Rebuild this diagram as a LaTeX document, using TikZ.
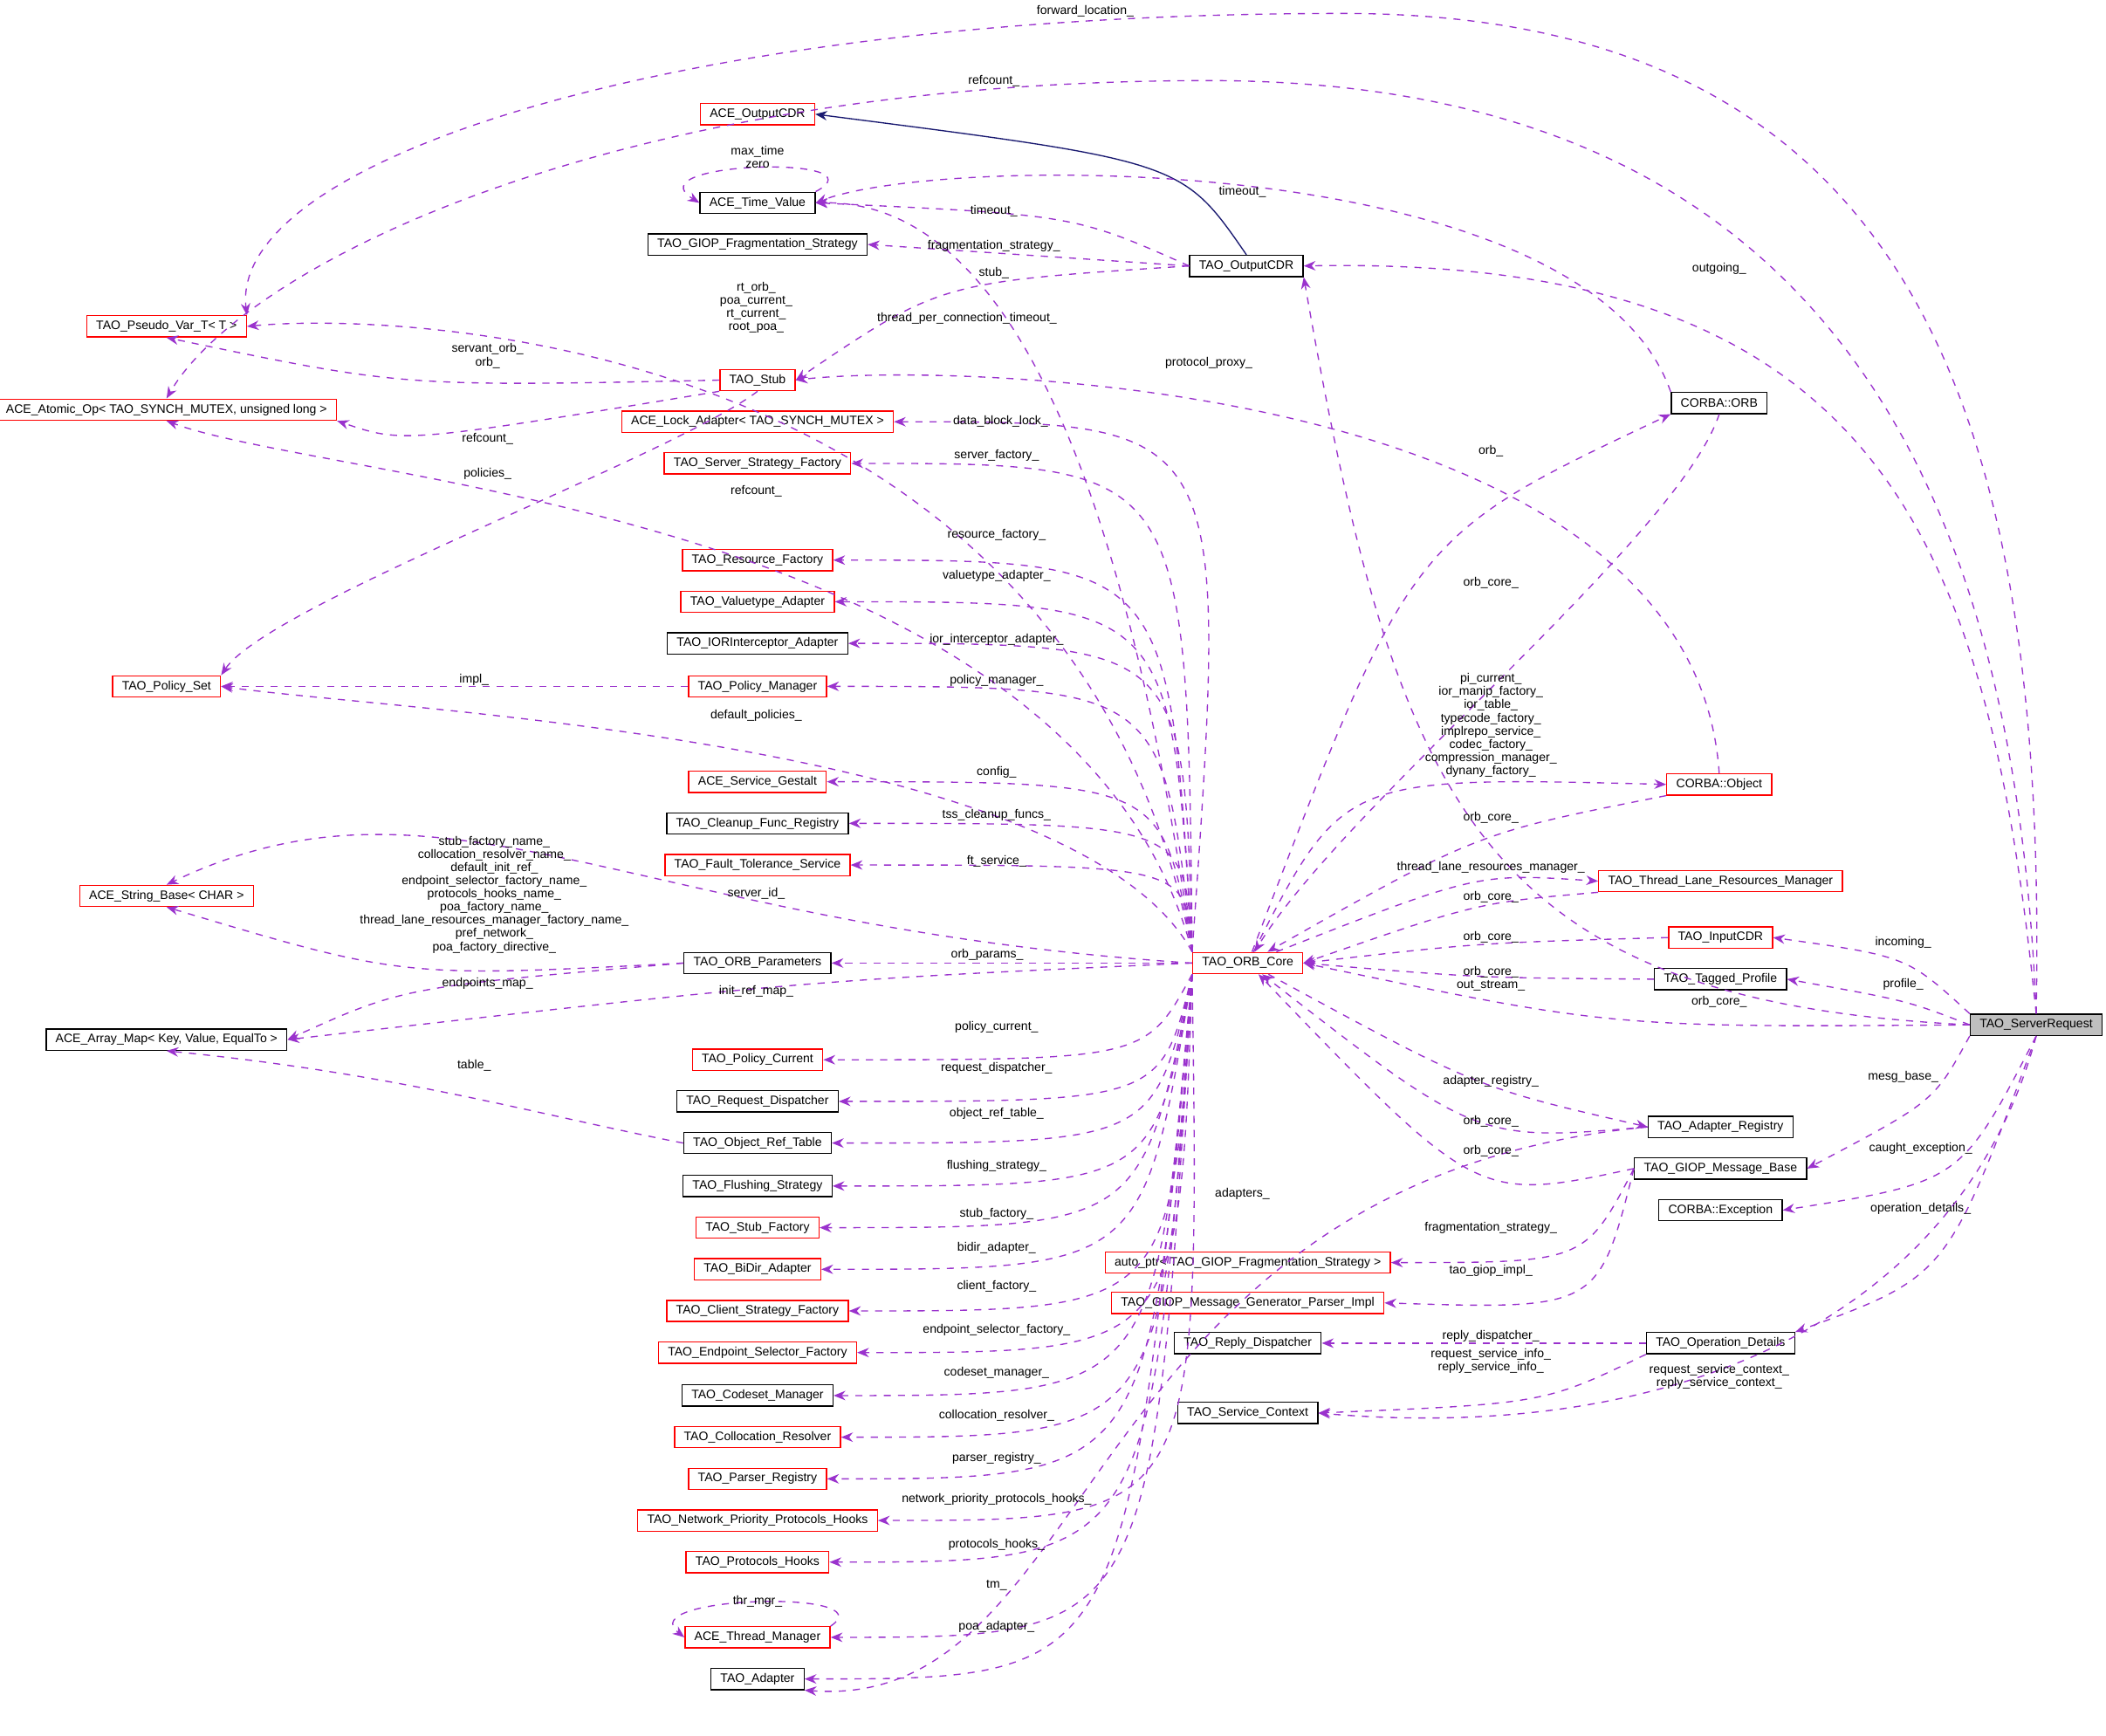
\documentclass[tikz,border=0pt]{standalone}
\usepackage{fontspec}
\setmainfont{Liberation Sans}
\usetikzlibrary{arrows.meta,calc}
\definecolor{ep}{HTML}{9A32CD}
\definecolor{nv}{HTML}{191970}
\tikzset{
 bx/.style={draw=black,fill=white,font=\fontsize{5.2}{6}\selectfont,minimum height=9pt,inner xsep=4pt,inner ysep=0pt,line width=0.5pt},
 rb/.style={bx,draw=red},
 e/.style={draw=ep,dashed,line width=0.5pt,-{Stealth[length=5pt,width=4pt]}},
 lb/.style={font=\fontsize{5.2}{5.6}\selectfont,inner sep=0pt,align=center},
}
\begin{document}
\begin{tikzpicture}[x=0.02cm,y=-0.02cm]
\useasboundingbox (0,0) rectangle (1568,1292);
% left column
\node[rb] (aocdr) at (564,85) {ACE\_OutputCDR};
\node[bx] (tv) at (564,151) {ACE\_Time\_Value};
\node[bx] (frag) at (564,182) {TAO\_GIOP\_Fragmentation\_Strategy};
\node[rb] (pv) at (124,243) {TAO\_Pseudo\_Var\_T< T >};
\node[rb] (atomic) at (124,305) {ACE\_Atomic\_Op< TAO\_SYNCH\_MUTEX, unsigned long >};
\node[rb] (stub) at (564,283) {TAO\_Stub};
\node[rb] (lock) at (564,314) {ACE\_Lock\_Adapter< TAO\_SYNCH\_MUTEX >};
\node[rb] (ssf) at (564,345) {TAO\_Server\_Strategy\_Factory};
\node[rb] (rf) at (564,417) {TAO\_Resource\_Factory};
\node[rb] (va) at (564,448) {TAO\_Valuetype\_Adapter};
\node[bx] (ior) at (564,479) {TAO\_IORInterceptor\_Adapter};
\node[rb] (pm) at (564,511) {TAO\_Policy\_Manager};
\node[rb] (ps) at (124,511) {TAO\_Policy\_Set};
\node[rb] (sg) at (564,582) {ACE\_Service\_Gestalt};
\node[bx] (cfr) at (564,613) {TAO\_Cleanup\_Func\_Registry};
\node[rb] (fts) at (564,644) {TAO\_Fault\_Tolerance\_Service};
\node[rb] (sb) at (124,667) {ACE\_String\_Base< CHAR >};
\node[bx] (param) at (564,717) {TAO\_ORB\_Parameters};
\node[bx] (am) at (124,774) {ACE\_Array\_Map< Key, Value, EqualTo >};
\node[rb] (pc) at (564,789) {TAO\_Policy\_Current};
\node[bx] (rd) at (564,820) {TAO\_Request\_Dispatcher};
\node[bx] (ort) at (564,851) {TAO\_Object\_Ref\_Table};
\node[bx] (fs) at (564,883) {TAO\_Flushing\_Strategy};
\node[rb] (sf) at (564,914) {TAO\_Stub\_Factory};
\node[rb] (bd) at (564,945) {TAO\_BiDir\_Adapter};
\node[rb] (csf) at (564,976) {TAO\_Client\_Strategy\_Factory};
\node[rb] (esf) at (564,1007) {TAO\_Endpoint\_Selector\_Factory};
\node[bx] (cm) at (564,1039) {TAO\_Codeset\_Manager};
\node[rb] (cr) at (564,1070) {TAO\_Collocation\_Resolver};
\node[rb] (pr) at (564,1101) {TAO\_Parser\_Registry};
\node[rb] (npph) at (564,1132) {TAO\_Network\_Priority\_Protocols\_Hooks};
\node[rb] (ph) at (564,1163) {TAO\_Protocols\_Hooks};
\node[rb] (tm) at (564,1219) {ACE\_Thread\_Manager};
\node[bx] (ad) at (564,1250) {TAO\_Adapter};
% middle
\node[bx] (ocdr) at (928,198) {TAO\_OutputCDR};
\node[rb] (core) at (929,717) {TAO\_ORB\_Core};
\node[rb] (ap) at (929,940) {auto\_ptr< TAO\_GIOP\_Fragmentation\_Strategy >};
\node[rb] (gen) at (929,970) {TAO\_GIOP\_Message\_Generator\_Parser\_Impl};
\node[bx] (rdp) at (929,1000) {TAO\_Reply\_Dispatcher};
\node[bx] (sc) at (929,1052) {TAO\_Service\_Context};
% right
\node[bx] (orb) at (1280,300) {CORBA::ORB};
\node[rb] (obj) at (1280,584) {CORBA::Object};
\node[rb] (tlrm) at (1281,656) {TAO\_Thread\_Lane\_Resources\_Manager};
\node[rb] (incdr) at (1281,698) {TAO\_InputCDR};
\node[bx] (tp) at (1281,729) {TAO\_Tagged\_Profile};
\node[bx] (ar) at (1281,839) {TAO\_Adapter\_Registry};
\node[bx] (gmb) at (1281,870) {TAO\_GIOP\_Message\_Base};
\node[bx] (exc) at (1281,901) {CORBA::Exception};
\node[bx] (od) at (1281,1000) {TAO\_Operation\_Details};
\node[bx,fill=black!25] (sr) at (1516,763) {TAO\_ServerRequest};

% inheritance
\draw[draw=nv,line width=0.5pt,-{Stealth[length=5pt,width=4pt]}] (ocdr.north) .. controls (880,120) .. (aocdr.east);

% ServerRequest edges
\draw[e] (sr.north) .. controls (1525,300) and (1420,10) .. (1000,10) .. controls (500,10) and (170,120) .. (pv.north east);
\draw[e] (sr.north) .. controls (1500,350) and (1350,60) .. (900,60) .. controls (450,60) and (180,200) .. (atomic.north);
\draw[e] (sr.north) .. controls (1480,400) and (1400,190) .. (ocdr.east);
\draw[e] (sr.west) .. controls (1100,745) and (1040,600) .. (ocdr.south east);
\draw[e] (sr.north west) .. controls (1420,712) .. (incdr.east);
\draw[e] (sr.west) .. controls (1420,745) .. (tp.east);
\draw[e] (sr.west) .. controls (1200,765) .. (core.east);
\draw[e] (sr.south west) .. controls (1440,820) .. (gmb.east);
\draw[e] (sr.south) .. controls (1460,880) .. (exc.east);
\draw[e] (sr.south) .. controls (1450,950) .. (od.north east);
\draw[e] (sr.south) .. controls (1460,980) and (1250,1075) .. (sc.east);

% ORB_Core to right
\draw[e] (core) .. controls (1050,400) .. (orb.south west);
\draw[e] (core) .. controls (1000,578) .. (obj.west);
\draw[e] (core) .. controls (1100,650) .. (tlrm.west);
\draw[e] (core) .. controls (1100,810) .. (ar.west);
% reverse to core
\draw[e] (orb.south) .. controls (1250,400) and (1000,600) .. (core);
\draw[e] (obj.south west) .. controls (1100,620) .. (core);
\draw[e] (tlrm.south west) .. controls (1100,672) .. (core.east);
\draw[e] (incdr.west) .. controls (1100,702) .. (core.east);
\draw[e] (tp.west) .. controls (1100,728) .. (core.east);
\draw[e] (ar.west) .. controls (1100,850) .. (core);
\draw[e] (gmb.west) .. controls (1100,895) .. (core);
\draw[e] (ar.west) .. controls (800,880) and (820,1275) .. (ad.south east);
\draw[e] (gmb.west) .. controls (1180,940) .. (ap.east);
\draw[e] (gmb.west) .. controls (1190,975) .. (gen.east);
\draw[e] (od.west) -- (rdp.east);
\draw[e] (od.south west) .. controls (1150,1045) .. (sc.east);
\draw[e] (obj.north) .. controls (1260,280) and (700,270) .. (stub.east);
\draw[e] (orb.north west) .. controls (1180,110) and (700,115) .. (tv.east);
\draw[e] (ocdr.west) .. controls (800,160) .. (tv.east);
\draw[e] (ocdr.west) -- (frag.east);
\draw[e] (ocdr.west) .. controls (700,210) .. (stub.east);
\draw[e] (tv.north east) .. controls (660,115) and (470,120) .. (tv.west);
\draw[e] (tm.north east) .. controls (660,1183) and (470,1188) .. (tm.west);
\draw[e] (stub.west) .. controls (300,288) .. (pv.south);
\draw[e] (stub.south west) .. controls (300,330) .. (atomic.south east);
\draw[e] (stub.south) .. controls (500,340) and (200,450) .. (ps.north east);
\draw[e] (pm.west) -- (ps.east);
\draw[e] (param.west) .. controls (300,728) .. (sb.south);
\draw[e] (param.west) .. controls (300,735) .. (am.east);
\draw[e] (ort.west) .. controls (400,830) and (300,800) .. (am.south);

% ORB_Core to left
\draw[e] (core.north west) .. controls (820,230) and (700,150) .. (tv.east);
\draw[e] (core.north west) .. controls (800,250) and (300,232) .. (pv.east);
\draw[e] (core.north west) .. controls (800,380) and (250,360) .. (atomic.south);
\draw[e] (core.north west) .. controls (800,550) and (300,530) .. (ps.east);
\draw[e] (core.west) .. controls (470,690) and (330,560) .. (sb.north);
\draw[e] (core.west) .. controls (600,730) .. (am.east);
\draw[e] (core.west) -- (param.east);
\foreach \t in {lock,ssf,rf,va,ior,pm,sg,cfr,fts}
  \draw[e] (core.north west) .. controls ($(\t.east)+(250,0)$) .. (\t.east);
\foreach \t in {pc,rd,ort,fs,sf,bd,csf,esf,cm,cr,pr,npph,ph,tm,ad}
  \draw[e] (core.south west) .. controls ($(\t.east)+(240,0)$) .. (\t.east);

% labels
\node[lb] at (808,8) {forward\_location\_};
\node[lb] at (740,60) {refcount\_};
\node[lb] at (564,117) {max\_time\\zero};
\node[lb] at (925,143) {timeout\_};
\node[lb] at (740,157) {timeout\_};
\node[lb] at (740,183) {fragmentation\_strategy\_};
\node[lb] at (740,203) {stub\_};
\node[lb] at (1280,200) {outgoing\_};
\node[lb] at (563,229) {rt\_orb\_\\poa\_current\_\\rt\_current\_\\root\_poa\_};
\node[lb] at (720,237) {thread\_per\_connection\_timeout\_};
\node[lb] at (363,265) {servant\_orb\_\\orb\_};
\node[lb] at (900,270) {protocol\_proxy\_};
\node[lb] at (745,314) {data\_block\_lock\_};
\node[lb] at (363,327) {refcount\_};
\node[lb] at (1110,336) {orb\_};
\node[lb] at (742,339) {server\_factory\_};
\node[lb] at (363,353) {policies\_};
\node[lb] at (563,366) {refcount\_};
\node[lb] at (742,398) {resource\_factory\_};
\node[lb] at (742,429) {valuetype\_adapter\_};
\node[lb] at (1110,434) {orb\_core\_};
\node[lb] at (742,476) {ior\_interceptor\_adapter\_};
\node[lb] at (353,506) {impl\_};
\node[lb] at (742,507) {policy\_manager\_};
\node[lb] at (1110,540) {pi\_current\_\\ior\_manip\_factory\_\\ior\_table\_\\typecode\_factory\_\\implrepo\_service\_\\codec\_factory\_\\compression\_manager\_\\dynany\_factory\_};
\node[lb] at (563,533) {default\_policies\_};
\node[lb] at (742,575) {config\_};
\node[lb] at (742,607) {tss\_cleanup\_funcs\_};
\node[lb] at (1110,609) {orb\_core\_};
\node[lb] at (742,641) {ft\_service\_};
\node[lb] at (1110,646) {thread\_lane\_resources\_manager\_};
\node[lb] at (563,665) {server\_id\_};
\node[lb] at (1110,668) {orb\_core\_};
\node[lb] at (368,666) {stub\_factory\_name\_\\collocation\_resolver\_name\_\\default\_init\_ref\_\\endpoint\_selector\_factory\_name\_\\protocols\_hooks\_name\_\\poa\_factory\_name\_\\thread\_lane\_resources\_manager\_factory\_name\_\\pref\_network\_\\poa\_factory\_directive\_};
\node[lb] at (1110,698) {orb\_core\_};
\node[lb] at (1417,702) {incoming\_};
\node[lb] at (735,711) {orb\_params\_};
\node[lb] at (1110,724) {orb\_core\_};
\node[lb] at (363,732) {endpoints\_map\_};
\node[lb] at (1110,734) {out\_stream\_};
\node[lb] at (1417,733) {profile\_};
\node[lb] at (563,738) {init\_ref\_map\_};
\node[lb] at (1280,746) {orb\_core\_};
\node[lb] at (742,765) {policy\_current\_};
\node[lb] at (353,793) {table\_};
\node[lb] at (742,795) {request\_dispatcher\_};
\node[lb] at (1417,802) {mesg\_base\_};
\node[lb] at (1110,805) {adapter\_registry\_};
\node[lb] at (742,829) {object\_ref\_table\_};
\node[lb] at (1110,835) {orb\_core\_};
\node[lb] at (1430,855) {caught\_exception\_};
\node[lb] at (1110,857) {orb\_core\_};
\node[lb] at (742,868) {flushing\_strategy\_};
\node[lb] at (925,889) {adapters\_};
\node[lb] at (1430,900) {operation\_details\_};
\node[lb] at (742,904) {stub\_factory\_};
\node[lb] at (1110,914) {fragmentation\_strategy\_};
\node[lb] at (742,929) {bidir\_adapter\_};
\node[lb] at (1110,946) {tao\_giop\_impl\_};
\node[lb] at (742,958) {client\_factory\_};
\node[lb] at (742,990) {endpoint\_selector\_factory\_};
\node[lb] at (1110,995) {reply\_dispatcher\_};
\node[lb] at (1110,1013) {request\_service\_info\_\\reply\_service\_info\_};
\node[lb] at (742,1022) {codeset\_manager\_};
\node[lb] at (1280,1025) {request\_service\_context\_\\reply\_service\_context\_};
\node[lb] at (742,1054) {collocation\_resolver\_};
\node[lb] at (742,1086) {parser\_registry\_};
\node[lb] at (742,1116) {network\_priority\_protocols\_hooks\_};
\node[lb] at (742,1150) {protocols\_hooks\_};
\node[lb] at (742,1180) {tm\_};
\node[lb] at (564,1192) {thr\_mgr\_};
\node[lb] at (742,1211) {poa\_adapter\_};
\end{tikzpicture}
\end{document}
